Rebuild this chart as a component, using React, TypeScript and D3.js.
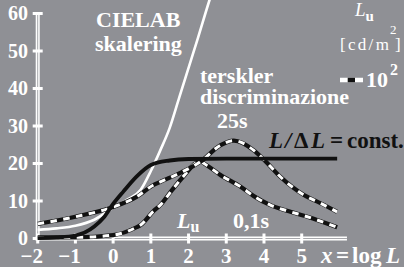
import * as d3 from 'd3';

const xTicks = [-2, -1, 0, 1, 2, 3, 4, 5];
const yTicks = [0, 10, 20, 30, 40, 50, 60];

// CIELAB skalering (white solid)
const cielabX = [-2, -1.5, -1, -0.5, 0, 0.4, 0.73, 1.0, 1.25, 1.5, 1.75, 2.0, 2.25, 2.55, 2.7];
const cielabY = [2.3, 2.7, 3.4, 5.0, 8.2, 10.5, 13, 18, 23.5, 29.5, 37.5, 45.5, 53.5, 63.4, 68];

// L/ΔL = const. (black solid)
const constX = [-2, -1.5, -1, -0.5, -0.25, 0, 0.27, 0.62, 1.0, 1.5, 2.0, 3.0, 4.0, 5.94];
const constY = [0.1, 0.3, 0.8, 3.2, 5.6, 9.2, 12.5, 16.5, 19.6, 20.8, 21.2, 21.3, 21.3, 21.3];

// terskler 25s (dashed)
const t25X = [-2, -1, 0, 0.62, 1.06, 1.25, 1.8, 2.32, 2.85, 3.2, 3.73, 4.0, 4.44, 5.06, 5.5, 5.94];
const t25Y = [3.9, 5.8, 8.4, 11.1, 14.2, 15.1, 17.6, 20.5, 24.9, 26.1, 23.5, 21, 16.4, 11.6, 9.4, 7.1];

// terskler 0,1s (dashed)
const t01X = [-2, -1, 0, 0.62, 0.73, 1.06, 1.25, 1.56, 1.9, 2.15, 2.28, 2.5, 2.85, 3.38, 3.73, 4.17, 4.61, 5.15, 5.94];
const t01Y = [0.3, 0.3, 0.9, 3.0, 3.6, 7.2, 8.9, 12.9, 17, 19.8, 20.6, 19.4, 16.9, 13.8, 11.3, 8.9, 7.4, 5.8, 3.0];

const BG = '#8f9095';
const FONT = "'Liberation Serif'";

const zip = (a: number[], b: number[]) => a.map((v, i) => [v, b[i]] as [number, number]);

export default function App() {
  const width = 404;
  const height = 267;

  const x = d3.scaleLinear().domain([-2, 5]).range([37.7, 301.7]);
  const y = d3.scaleLinear().domain([0, 60]).range([238.5, 13.5]);

  const line = d3
    .line<[number, number]>()
    .x((d) => x(d[0]))
    .y((d) => y(d[1]))
    .curve(d3.curveMonotoneX);

  const x0 = x(-2);
  const y0 = y(0);
  const xEnd = x(6.2);

  const dashed = (pts: [number, number][], key: string) => (
    <g key={key}>
      <path d={line(pts) || ''} fill="none" stroke="#111" strokeWidth={4.2} />
      <path d={line(pts) || ''} fill="none" stroke="#fff" strokeWidth={3} strokeDasharray="6.5,6.5" />
    </g>
  );

  const txt = { fontFamily: FONT, fontWeight: 'bold' } as const;
  const reg = { fontFamily: FONT, fontWeight: 'normal' } as const;

  return (
    <svg width={width} height={height} style={{ position: 'absolute', left: 0, top: 0 }}>
      <rect width={width} height={height} fill={BG} />

      {/* axes */}
      <line x1={x0} x2={x0} y1={y(60)} y2={y0 + 2} stroke="#fff" strokeWidth={4} />
      <line x1={x0} x2={x0} y1={y(60)} y2={y0} stroke={BG} strokeWidth={0.8} />
      <line x1={x0 - 2} x2={xEnd} y1={y0} y2={y0} stroke="#fff" strokeWidth={4} />
      <line x1={x0} x2={xEnd} y1={y0} y2={y0} stroke={BG} strokeWidth={0.8} />
      {yTicks.map((t) => (
        <g key={'y' + t}>
          <line x1={x0 - 5} x2={x0 + 5} y1={y(t)} y2={y(t)} stroke="#fff" strokeWidth={3} />
          <text x={28} y={y(t) + 6.5} fill="#fff" fontSize={20} textAnchor="end" style={txt}>
            {t}
          </text>
        </g>
      ))}
      {xTicks.map((t) => (
        <g key={'x' + t}>
          <line x1={x(t)} x2={x(t)} y1={y0 - 5} y2={y0 + 5} stroke="#fff" strokeWidth={3} />
          <text x={x(t) + 5.3} y={262.5} fill="#fff" fontSize={21} textAnchor="end" style={txt}>
            {t < 0 ? '\u2212' + Math.abs(t) : t}
          </text>
        </g>
      ))}

      {/* curves */}
      <path d={line(zip(cielabX, cielabY)) || ''} fill="none" stroke="#fff" strokeWidth={2.6} />
      {dashed(zip(t01X, t01Y), 't01')}
      {dashed(zip(t25X, t25Y), 't25')}
      <path d={line(zip(constX, constY)) || ''} fill="none" stroke="#111" strokeWidth={3.8} />

      {/* texts */}
      <text x={96} y={27} fill="#fff" fontSize={22} style={txt}>CIELAB</text>
      <text x={95} y={51} fill="#fff" fontSize={22} style={txt}>skalering</text>
      <text x={200} y={83} fill="#fff" fontSize={22} style={txt}>terskler</text>
      <text x={200} y={104} fill="#fff" fontSize={22} style={txt}>discriminazione</text>
      <text x={217} y={128} fill="#fff" fontSize={22} style={txt}>25s</text>

      <text y={148} fill="#111" fontSize={23} style={txt}>
        <tspan x={269} fontStyle="italic">L</tspan>
        <tspan x={285} fontStyle="italic">/</tspan>
        <tspan x={294}>Δ</tspan>
        <tspan x={311} fontStyle="italic">L</tspan>
        <tspan x={330}>=</tspan>
        <tspan x={347}>const.</tspan>
      </text>

      <text x={177} y={228} fill="#fff" fontSize={22} style={txt}>
        <tspan fontStyle="italic">L</tspan>
        <tspan fontSize={16} dy={4}>u</tspan>
      </text>
      <text x={233} y={228} fill="#fff" fontSize={22} style={txt}>0,1s</text>

      <text y={262.5} fill="#fff" fontSize={23} style={txt}>
        <tspan x={321} fontStyle="italic">x</tspan>
        <tspan x={336}>=</tspan>
        <tspan x={352}>log</tspan>
        <tspan x={386} fontStyle="italic">L</tspan>
      </text>

      {/* legend top right */}
      <text x={355} y={16} fill="#fff" fontSize={19} style={txt}>
        <tspan fontStyle="italic" fontWeight="normal">L</tspan>
        <tspan fontSize={15} dy={5}>u</tspan>
      </text>
      <text x={340} y={50} fill="#fff" fontSize={17} letterSpacing={2.3} style={reg}>[cd/m</text>
      <text x={390} y={34} fill="#fff" fontSize={13} style={reg}>2</text>
      <text x={395} y={50} fill="#fff" fontSize={17} style={reg}>]</text>

      <line x1={340} x2={363} y1={80} y2={80} stroke="#fff" strokeWidth={4.5} />
      <line x1={347.7} x2={355} y1={80} y2={80} stroke="#111" strokeWidth={4.5} />
      <text x={366} y={87} fill="#fff" fontSize={22} style={txt}>10</text>
      <text x={390} y={75} fill="#fff" fontSize={16} style={txt}>2</text>
    </svg>
  );
}
